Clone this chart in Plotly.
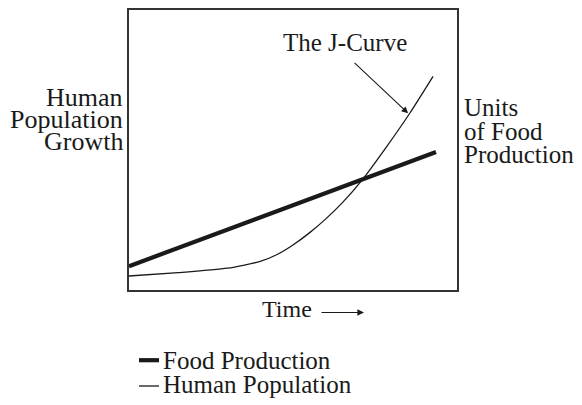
import plotly.graph_objects as go

# ---- data ----
time_food = [0.0, 9.36]
food_production = [0.85, 4.93]

time_pop = [0.0, 1.5, 3.0, 4.0, 4.5, 5.0, 5.5, 6.0, 6.5, 7.13, 7.85, 8.57, 9.27]
human_population = [0.50, 0.62, 0.78, 1.02, 1.26, 1.61, 2.04, 2.54, 3.11, 3.96, 5.11, 6.33, 7.63]

left_label = ["Human", "Population", "Growth"]
right_label = ["Units", "of Food", "Production"]
legend_names = ["Food Production", "Human Population"]

FONT = "Liberation Serif, Times New Roman, serif"
INK = "#1a1a1a"
FS = 25

W, H = 582, 405
L, R, T, B = 129, 457, 8, 290


def px(xp):
    return (xp - L) / (R - L)


def py(yp):
    return (B - yp) / (B - T)


fig = go.Figure()
fig.add_trace(go.Scatter(x=time_food, y=food_production, mode="lines",
                         line=dict(color=INK, width=4.2), name=legend_names[0],
                         showlegend=False, hoverinfo="skip"))
fig.add_trace(go.Scatter(x=time_pop, y=human_population, mode="lines",
                         line=dict(color=INK, width=1.3, shape="spline", smoothing=0.6),
                         name=legend_names[1], showlegend=False, hoverinfo="skip"))

ann = []
# left labels (right aligned)
for txt, yc in zip(left_label, [96, 118, 140]):
    ann.append(dict(xref="paper", yref="paper", x=px(125), y=py(yc), text=txt,
                    xanchor="right", yanchor="middle", showarrow=False,
                    font=dict(family=FONT, size=26, color=INK)))
# right labels
for txt, yc in zip(right_label, [106, 130, 154]):
    ann.append(dict(xref="paper", yref="paper", x=px(462), y=py(yc), text=txt,
                    xanchor="left", yanchor="middle", showarrow=False,
                    font=dict(family=FONT, size=FS, color=INK)))
# J-curve label + arrow
ann.append(dict(xref="paper", yref="paper", x=px(345), y=py(41), text="The J-Curve",
                xanchor="center", yanchor="middle", showarrow=False,
                font=dict(family=FONT, size=FS, color=INK)))
ann.append(dict(xref="x", yref="y", x=8.51, y=6.31, axref="x", ayref="y",
                ax=6.83, ay=8.16, text="", showarrow=True, arrowhead=2,
                arrowsize=1.2, arrowwidth=1.1, arrowcolor=INK))
# Time label + arrow
ann.append(dict(xref="paper", yref="paper", x=px(260), y=py(309), text="Time",
                xanchor="left", yanchor="middle", showarrow=False,
                font=dict(family=FONT, size=24, color=INK)))
ann.append(dict(xref="paper", yref="paper", x=px(364), y=py(312.7), ax=-44, ay=0,
                text="", showarrow=True, arrowhead=2, arrowsize=1.2,
                arrowwidth=1.1, arrowcolor=INK))
# legend texts
for txt, yc in zip(legend_names, [361, 385.5]):
    ann.append(dict(xref="paper", yref="paper", x=px(161), y=py(yc), text=txt,
                    xanchor="left", yanchor="middle", showarrow=False,
                    font=dict(family=FONT, size=FS, color=INK)))

shapes = [
    dict(type="line", xref="paper", yref="paper", x0=px(139), x1=px(159),
         y0=py(360.7), y1=py(360.7), line=dict(color=INK, width=4.2)),
    dict(type="line", xref="paper", yref="paper", x0=px(139), x1=px(159),
         y0=py(386.7), y1=py(386.7), line=dict(color=INK, width=1.3)),
]

fig.update_layout(
    width=W, height=H,
    margin=dict(l=L, r=W - R, t=T, b=H - B, pad=0),
    paper_bgcolor="white", plot_bgcolor="white",
    annotations=ann, shapes=shapes, showlegend=False,
    xaxis=dict(range=[0, 10], showgrid=False, zeroline=False, showticklabels=False,
               ticks="", showline=True, mirror=True, linecolor="#333", linewidth=1.6,
               fixedrange=True),
    yaxis=dict(range=[0, 10], showgrid=False, zeroline=False, showticklabels=False,
               ticks="", showline=True, mirror=True, linecolor="#333", linewidth=1.6,
               fixedrange=True),
)

fig.write_html("out.html", config={"displayModeBar": False},
               post_script="document.body.style.margin='0';document.body.style.padding='0';")
